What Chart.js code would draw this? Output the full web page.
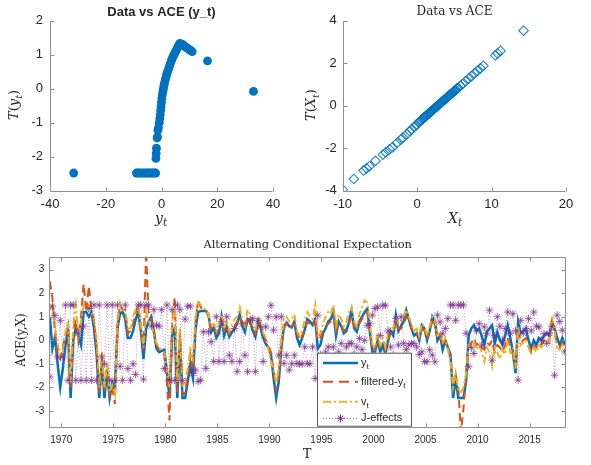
<!DOCTYPE html>
<html>
<head>
<meta charset="utf-8">
<script src="https://cdn.jsdelivr.net/npm/chart.js@4.4.0/dist/chart.umd.min.js"></script>
<style>
  body { margin: 0; background: #fff; }
  .pane { position: absolute; }
</style>
</head>
<body>
<div class="pane" style="left:0;top:0;width:295px;height:230px"><canvas id="tlChart"></canvas></div>
<div class="pane" style="left:295px;top:0;width:296px;height:230px"><canvas id="trChart"></canvas></div>
<div class="pane" style="left:0;top:230px;width:591px;height:235px"><canvas id="aceChart"></canvas></div>
<script>
// top-left: y_t against its ACE transform
const ytVals = [-31.5, -9, -8.3, -7.6, -6.8, -6, -5.3, -4.6, -3.9, -3.2, -2.6, -2.1,
    -2.0, -1.9, -1.8, -1.6, -1.45, -1.3, -1.1,
    -0.8, -0.6, -0.45, -0.3, -0.15, 0.0, 0.15, 0.3, 0.5, 0.7, 0.9, 1.1, 1.35, 1.6, 1.85, 2.1,
    2.4, 2.7, 3.0, 3.3, 3.6, 3.9, 4.2, 4.5, 4.8, 5.1, 5.4, 5.7, 6.0, 6.3, 6.6,
    7.0, 7.5, 8.0, 8.5, 9.0, 9.5, 10.0, 10.5, 11.0, 16.5, 33.0];
const TytVals = [-2.48, -2.48, -2.48, -2.48, -2.48, -2.48, -2.48, -2.48, -2.48, -2.48, -2.48, -2.48,
    -2.05, -1.9, -1.75, -1.45, -1.42, -1.22, -1.15,
    -1.0, -0.88, -0.76, -0.64, -0.52, -0.4, -0.28, -0.18, -0.08, 0.0, 0.1, 0.18, 0.26, 0.34, 0.42, 0.48,
    0.55, 0.62, 0.7, 0.77, 0.84, 0.9, 0.95, 1.0, 1.05, 1.1, 1.15, 1.2, 1.25, 1.29, 1.33,
    1.32, 1.3, 1.27, 1.24, 1.21, 1.18, 1.15, 1.12, 1.09, 0.82, -0.08];

// top-right: X_t against its ACE transform
const XtVals = [-10, -8.5, -7.2, -6.8, -6.4, -5.6, -4.6, -4.2, -3.7, -3.3,
    -2.7, -2.2, -1.9, -1.4, -1.0, -0.7, -0.4, -0.1, 0.2, 0.5,
    0.8, 1.0, 1.2, 1.4, 1.6, 1.8, 2.0, 2.2, 2.4, 2.6,
    2.8, 3.0, 3.2, 3.4, 3.6, 3.8, 4.0, 4.2, 4.4, 4.6,
    4.8, 5.0, 5.2, 5.5, 5.8, 6.1, 6.5, 6.9, 7.3, 7.7,
    8.1, 8.5, 8.9, 10.5, 10.8, 11.2, 14.3,
    0.35, 0.65, 0.9, 1.1, 1.3, 1.5, 1.7, 1.9, 2.1, 2.3, 2.5, 2.7, 2.9,
    3.1, 3.3, 3.5, 3.7, 3.9, 4.1, 4.3, 4.5, 4.7, 4.9, 5.1, 5.35];
const TXtVals = [-3.95, -3.45, -3.05, -2.95, -2.85, -2.6, -2.3, -2.2, -2.05, -1.95,
    -1.75, -1.6, -1.5, -1.35, -1.2, -1.1, -1.0, -0.92, -0.8, -0.7,
    -0.62, -0.55, -0.48, -0.42, -0.36, -0.3, -0.24, -0.17, -0.11, -0.05,
    0.02, 0.08, 0.14, 0.2, 0.26, 0.32, 0.38, 0.45, 0.5, 0.57,
    0.63, 0.69, 0.75, 0.84, 0.93, 1.02, 1.15, 1.27, 1.39, 1.52,
    1.64, 1.76, 1.88, 2.37, 2.46, 2.58, 3.53,
    -0.73, -0.64, -0.56, -0.5, -0.44, -0.38, -0.32, -0.26, -0.2, -0.13, -0.07, -0.01, 0.05,
    0.11, 0.17, 0.23, 0.3, 0.36, 0.42, 0.48, 0.54, 0.6, 0.66, 0.72, 0.8];

// bottom: quarterly series, first quarter at 1968.9
const quarterStart = 1968.9;
const quarterStep = 0.25;
const ytSeries = [
    1.0, -0.35, 0.15, -1.0, -2.0, -1.2, -0.2, 0.45, -2.45, 0.0,
    0.55, 0.2, -0.2, 1.2, 1.2, 1.0, 1.2, 0.5, -0.6, -2.45,
    -0.9, -2.45, -1.3, -2.45, -1.8, -2.1, 0.5, 1.15, 1.2, 0.9,
    0.1, 0.1, 0.4, 0.9, 1.2, 0.4, -0.8, 0.5, 0.8, 1.0,
    0.35, -0.35, -0.5, -0.45, -0.4, -1.3, -2.45, 0.2, 0.5, -2.45,
    0.0, -2.45, -2.45, -1.75, -1.05, -1.6, 0.5, 1.2, 1.25, 1.25,
    1.25, 1.1, 0.35, 0.55, 0.1, 0.3, 1.0, 0.2, 0.55, 0.15,
    0.35, 0.5, 0.7, 1.1, 0.6, 0.35, 0.9, 0.8, 0.4, 0.15,
    0.8, 0.55, 0.1, -0.15, -0.3, -0.6, -1.6, -2.45, -1.75, -0.3,
    0.6, 0.75, 0.6, 0.55, 0.8, 0.1, -0.2, 0.1, 0.45, 0.9,
    0.8, 0.65, 0.9, -0.35, -0.2, 0.3, 0.5, 0.8, 0.9, 1.2,
    0.2, 0.8, 0.6, 0.3, 0.4, 0.8, 1.28, 0.5, 0.36, 0.8,
    1.0, 1.2, 1.35, 0.36, -0.5, -0.5, 0.0, -0.5, -0.2, -0.6,
    0.0, 0.4, 0.2, 1.07, 0.4, 0.6, 0.8, 1.28, 0.9, 0.5,
    0.2, 0.3, 0.0, 0.64, 0.5, 0.0, 0.4, 1.0, 0.8, 0.0,
    0.2, -0.4, 0.0, -0.3, -0.6, -2.45, -1.6, -2.45, -2.45, -2.45,
    -1.75, 0.2, 0.5, 0.64, 0.4, 0.5, 0.2, -0.2, 0.36, 0.5,
    0.64, -0.15, 0.36, 0.0, -0.2, 0.2, 0.64, 0.1, -0.5, -1.4,
    0.78, 0.3, 0.4, 0.5, 0.0, -0.35, 0.0, -0.2, 0.1, 0.0,
    0.2, 0.3, 0.2, 0.78, 0.5, 0.1, -0.2, 0.1, -0.2];
const filteredSeries = [
    2.5, 1.8, 0.3, -0.6, -0.8, -0.3, 0.2, 0.6, -2.0, 0.4,
    0.9, 0.0, 1.0, 2.4, 1.2, 2.3, 1.3, 0.8, -0.3, -2.2,
    -0.6, -2.2, -1.0, -2.3, -2.0, -2.7, 0.6, 1.5, 1.3, 1.3,
    0.3, 0.4, 0.7, 1.2, 1.5, 0.5, -0.4, 3.8, 1.0, 0.9,
    0.4, -0.2, -0.4, -0.5, -0.6, -1.8, -3.4, 0.5, 1.85, -2.2,
    0.3, -2.3, -2.2, -1.5, -0.6, -1.2, 0.8, 1.7, 1.4, 1.3,
    1.3, 1.0, 0.5, 0.6, 0.3, 0.5, 0.9, 0.4, 0.6, 0.3,
    0.5, 0.6, 0.8, 1.0, 0.7, 0.5, 1.0, 0.7, 0.5, 0.3,
    0.7, 0.6, 0.3, 0.0, -0.2, -0.5, -1.3, -2.1, -1.5, -0.2,
    0.5, 0.7, 0.5, 0.6, 0.7, 0.3, 0.0, 0.2, 0.5, 0.8,
    0.7, 0.6, 0.8, 0.0, 0.1, 0.4, 0.6, 0.7, 0.8, 1.0,
    0.4, 0.7, 0.6, 0.4, 0.5, 0.7, 1.0, 0.6, 0.5, 0.7,
    0.9, 1.1, 1.2, 0.4, -0.3, -0.4, 0.0, -0.3, -0.2, -0.4,
    0.0, 0.3, 0.3, 0.8, 0.5, 0.5, 0.7, 1.0, 0.8, 0.5,
    0.3, 0.3, 0.1, 0.5, 0.4, 0.1, 0.4, 0.8, 0.7, 0.1,
    0.2, -0.2, 0.0, -0.3, -0.8, -1.8, -1.5, -2.0, -3.9, -2.9,
    -1.4, -0.3, -0.1, 0.1, -0.2, -0.1, -0.3, -0.4, -0.1, -0.2,
    0.0, -0.5, -0.2, -0.3, -0.5, -0.2, 0.1, -0.3, -0.6, -1.0,
    0.5, -0.1, 0.0, 0.1, -0.2, -0.5, -0.2, -0.3, -0.1, -0.2,
    0.0, 0.1, 0.0, 0.9, 0.3, -0.1, -0.3, -0.1, -0.3];
const vtSeries = [
    1.3, 1.5, 0.5, -0.2, -0.6, -0.4, 0.3, 0.8, -1.8, 0.6,
    1.5, 0.2, 0.8, 1.5, 1.3, 1.5, 1.2, 0.9, 0.0, -2.0,
    -0.5, -2.0, -1.0, -2.2, -1.9, -2.3, 0.8, 1.6, 1.3, 1.2,
    0.5, 0.5, 1.0, 1.3, 1.5, 0.6, -0.3, 1.2, 0.8, 0.7,
    0.2, -0.1, -0.3, -0.4, -0.5, -1.2, -2.0, 0.8, 1.4, -1.8,
    0.5, -1.9, -1.8, -1.2, -0.4, -0.8, 1.0, 1.6, 1.5, 1.4,
    1.3, 1.1, 0.6, 0.7, 0.4, 0.7, 1.1, 0.5, 0.9, 0.4,
    0.7, 0.9, 1.0, 1.4, 0.9, 0.6, 1.3, 1.1, 0.7, 0.4,
    1.0, 0.8, 0.3, 0.1, -0.4, -0.9, -1.3, -1.8, -1.2, 0.1,
    0.9, 1.0, 0.8, 0.9, 1.1, 0.4, 0.2, 0.4, 0.9, 1.2,
    1.0, 0.9, 1.5, 0.1, 0.3, 0.7, 1.0, 1.2, 1.1, 1.5,
    0.6, 1.1, 0.9, 0.6, 0.8, 1.2, 1.4, 0.8, 0.6, 1.1,
    1.4, 1.7, 1.6, 0.7, -0.2, -0.3, 0.3, -0.2, 0.1, -0.3,
    0.3, 0.6, 0.5, 1.0, 0.7, 0.8, 1.0, 1.3, 1.0, 0.7,
    0.4, 0.5, 0.2, 0.7, 0.6, 0.2, 0.6, 1.0, 0.9, 0.2,
    0.3, -0.1, 0.1, -0.4, -0.9, -2.0, -1.4, -2.1, -2.2, -2.0,
    -1.4, -0.2, -0.3, 0.0, -0.4, -0.2, -0.5, -0.9, -0.3, -0.5,
    -1.1, -0.3, -0.5, -0.8, -0.4, -0.6, 0.0, -0.5, -0.3, -1.2,
    0.6, -0.2, -0.1, 0.0, -0.3, -0.6, -0.3, -0.5, -0.2, -0.3,
    -0.1, 0.0, -0.1, 1.07, 0.4, -0.3, -0.4, -0.2, -0.5];
const jEffects = [
    -1.55, 1.45, 1.05, -0.7, 0.85, -0.7, 1.5, -1.7, 1.5, 1.5,
    -1.7, 0.3, -1.7, 0.6, -1.7, 1.35, -1.7, 1.5, -1.7, 1.5,
    -0.7, -1.0, 1.5, -1.7, 1.5, -1.7, 1.5, -1.1, -1.7, 1.5,
    -1.2, -1.7, -1.0, -1.45, 1.5, 1.5, -1.65, 1.5, 1.5, 0.6,
    1.3, 0.65, 0.6, 1.3, -1.2, 1.5, -1.7, 1.3, -1.7, 1.5,
    1.3, -1.7, 0.9, 1.45, 1.45, -1.4, -1.26, -1.75, -1.69, 0.36,
    -1.19, 0.36, -0.06, -0.9, 1.0, -0.9, 0.8, -0.9, 1.0, -0.63,
    -0.9, 0.5, -1.33, -0.9, 0.7, -0.63, -1.33, 0.85, 0.92, -1.33,
    0.85, 0.57, -0.9, 0.57, 1.0, 1.49, 0.43, 1.0, -0.63, 1.0,
    -0.98, -0.63, -1.26, -1.0, -0.63, -0.98, -1.0, -1.0, -0.28, -0.98,
    -1.0, -0.28, -1.62, 1.07, -0.6, -1.2, -0.5, -0.28, -0.8, -0.28,
    -1.0, -0.5, -0.13, -0.7, -0.28, -0.13, -0.13, -0.6, -0.28, 0.08,
    -0.4, 0.0, 0.64, 0.7, 1.07, 1.35, 1.42, 0.2, 1.49, 1.49,
    0.4, -0.28, -0.63, 0.92, -0.2, 1.0, -0.13, -0.4, -0.2, -0.13,
    -0.13, -0.28, -0.6, -0.49, -0.9, -0.91, -0.4, -0.63, -0.91, 1.07,
    0.78, 0.28, 0.5, 0.92, 1.5, 1.5, 0.85, 1.5, 1.5, 1.5,
    0.3, -1.12, -0.3, -0.56, 0.4, 0.71, -0.2, 0.57, 0.3, 1.28,
    -0.84, 0.2, 1.0, 0.6, 0.0, 0.5, 1.2, 0.3, 1.13, 0.4,
    -1.69, 0.85, 0.3, 0.5, 0.92, 0.4, 1.2, 0.6, 0.57, 0.0,
    0.28, -0.13, 0.3, 0.6, -1.48, 1.07, 0.8, 0.43, -0.49];

const tlXTicks = [-40, -20, 0, 20, 40];
const tlYTicks = [-3, -2, -1, 0, 1, 2];
const trXTicks = [-10, 0, 10, 20];
const trYTicks = [-4, -2, 0, 2, 4];
const aceXTicks = [1970, 1975, 1980, 1985, 1990, 1995, 2000, 2005, 2010, 2015];
const aceYTicks = [-3, -2, -1, 0, 1, 2, 3];

const BLUE = '#0072BD', ORANGE = '#D95319', YELLOW = '#EDB120', PURPLE = '#7E2F8E';
const INK = '#262626';
const SANS = '"Liberation Sans", Arial, sans-serif';
const SERIF = '"DejaVu Serif", serif';

const years = ytSeries.map((_, i) => +(quarterStart + quarterStep * i).toFixed(2));
const pairs = (xs, ys) => xs.map((x, i) => ({x: x, y: ys[i]}));

// text made of pieces: [text, style] with style '' upright, 'i' italic, 's' subscript
function richText(ctx, parts, x, y, size, family, rot, italicSub) {
    ctx.save();
    ctx.translate(x, y);
    if (rot) ctx.rotate(rot);
    const fontOf = p => ((p[1] === 'i' || (p[1] === 's' && italicSub)) ? 'italic ' : '') +
        (p[1] === 's' ? size * 0.72 : size) + 'px ' + family;
    let w = 0;
    parts.forEach(p => { ctx.font = fontOf(p); w += ctx.measureText(p[0]).width; });
    let cx = -w / 2;
    ctx.textAlign = 'left';
    ctx.textBaseline = 'middle';
    ctx.fillStyle = INK;
    parts.forEach(p => {
        ctx.font = fontOf(p);
        ctx.fillText(p[0], cx, p[1] === 's' ? size * 0.32 : 0);
        cx += ctx.measureText(p[0]).width;
    });
    ctx.restore();
}

function plainText(ctx, text, x, y, font) {
    ctx.save();
    ctx.font = font;
    ctx.fillStyle = INK;
    ctx.textAlign = 'center';
    ctx.textBaseline = 'middle';
    ctx.fillText(text, x, y);
    ctx.restore();
}

// matlab style axes: inward tick marks, optional full box
function drawAxes(chart, box) {
    const {ctx, chartArea: a} = chart;
    const sx = chart.scales.x, sy = chart.scales.y;
    ctx.save();
    ctx.strokeStyle = '#8f8f8f';
    ctx.lineWidth = 1;
    ctx.beginPath();
    const L = Math.round(a.left) + 0.5, B = Math.round(a.bottom) + 0.5;
    const R = Math.round(a.right) - 0.5, T = Math.round(a.top) + 0.5;
    ctx.moveTo(L, T); ctx.lineTo(L, B); ctx.lineTo(R, B);
    if (box) { ctx.lineTo(R, T); ctx.lineTo(L, T); }
    sx.ticks.forEach(t => {
        const p = Math.round(sx.getPixelForValue(t.value)) + 0.5;
        ctx.moveTo(p, B); ctx.lineTo(p, B - 4);
        if (box) { ctx.moveTo(p, T); ctx.lineTo(p, T + 4); }
    });
    sy.ticks.forEach(t => {
        const p = Math.round(sy.getPixelForValue(t.value)) + 0.5;
        ctx.moveTo(L, p); ctx.lineTo(L + 4, p);
        if (box) { ctx.moveTo(R, p); ctx.lineTo(R - 4, p); }
    });
    ctx.stroke();
    ctx.restore();
}

function axisOpts(min, max, ticks, size, pad, fitProp, fitVal) {
    return {
        type: 'linear', min: min, max: max,
        afterBuildTicks: s => { s.ticks = ticks.map(v => ({value: v})); },
        afterFit: s => { s[fitProp] = fitVal; },
        ticks: {
            font: {family: SANS, size: size}, color: INK, padding: pad,
            callback: v => String(v), maxRotation: 0, autoSkip: false,
        },
        grid: {display: false, drawTicks: false},
        border: {display: false},
    };
}

const baseOpts = (padTop, padRight) => ({
    responsive: true,
    maintainAspectRatio: false,
    animation: false,
    layout: {padding: {top: padTop, right: padRight, left: 0, bottom: 0}},
    plugins: {legend: {display: false}, tooltip: {enabled: false}},
});

// ---------- top left ----------
const tlOptions = baseOpts(20.7, 22);
tlOptions.scales = {
    x: axisOpts(-40, 40, tlXTicks, 13, 6, 'height', 230 - 190.7),
    y: axisOpts(-3, 2, tlYTicks, 13, 7, 'width', 50),
};
new Chart(document.getElementById('tlChart'), {
    type: 'scatter',
    data: {datasets: [{
        data: pairs(ytVals, TytVals),
        pointRadius: 4.4,
        pointBackgroundColor: BLUE,
        pointBorderColor: BLUE,
        pointBorderWidth: 0,
    }]},
    options: tlOptions,
    plugins: [{id: 'decoTL', afterDraw(chart) {
        const ctx = chart.ctx;
        drawAxes(chart, false);
        plainText(ctx, 'Data vs ACE (y_t)', 161.5, 12, 'bold 13px ' + SANS);
        richText(ctx, [['T', 'i'], ['(', ''], ['y', 'i'], ['t', 's'], [')', '']], 15, 105, 13, SERIF, -Math.PI / 2, true);
        richText(ctx, [['y', 'i'], ['t', 's']], 161, 219, 14, SERIF, 0, true);
    }}],
});

// ---------- top right ----------
const trOptions = baseOpts(20.7, 25);
trOptions.scales = {
    x: axisOpts(-10, 20, trXTicks, 13, 6, 'height', 230 - 190.7),
    y: axisOpts(-4, 4, trYTicks, 13, 6, 'width', 47.7),
};
new Chart(document.getElementById('trChart'), {
    type: 'scatter',
    data: {datasets: [{
        data: pairs(XtVals, TXtVals),
        pointStyle: 'rectRot',
        pointRadius: 4.8,
        pointBackgroundColor: 'rgba(0,0,0,0)',
        pointBorderColor: 'rgba(0,114,189,0.85)',
        pointBorderWidth: 1.1,
    }]},
    options: trOptions,
    plugins: [{id: 'decoTR', afterDraw(chart) {
        const ctx = chart.ctx;
        drawAxes(chart, false);
        plainText(ctx, 'Data vs ACE', 159.5, 11.5, '12px ' + SERIF);
        richText(ctx, [['T', 'i'], ['(', ''], ['X', 'i'], ['t', 's'], [')', '']], 17, 105, 13, SERIF, -Math.PI / 2, true);
        richText(ctx, [['X', 'i'], ['t', 's']], 160, 219, 14, SERIF, 0, true);
    }}],
});

// ---------- bottom: ACE over time ----------
function drawLegend(chart) {
    const ctx = chart.ctx;
    const x0 = 317, y0 = 122.7, w = 95, h = 74;
    ctx.save();
    ctx.fillStyle = '#fff';
    ctx.fillRect(x0, y0, w, h);
    ctx.strokeStyle = '#555';
    ctx.lineWidth = 1;
    ctx.strokeRect(x0 + 0.5, y0 + 0.5, w - 1, h - 1);
    const rows = [
        {y: 133, color: BLUE, width: 2.5, dash: [], parts: [['y', ''], ['t', 's']]},
        {y: 151.7, color: ORANGE, width: 2, dash: [10, 6], parts: [['filtered-y', ''], ['t', 's']]},
        {y: 171.7, color: YELLOW, width: 2, dash: [8, 3, 2, 3], parts: [['v', ''], ['t', 's']]},
        {y: 188.3, color: PURPLE, width: 0.8, dash: [1, 2], parts: [['J-effects', '']]},
    ];
    rows.forEach(r => {
        ctx.beginPath();
        ctx.setLineDash(r.dash);
        ctx.strokeStyle = r.color;
        ctx.lineWidth = r.width;
        ctx.moveTo(323, r.y);
        ctx.lineTo(358, r.y);
        ctx.stroke();
        ctx.setLineDash([]);
        let cx = 361;
        r.parts.forEach(p => {
            const size = p[1] === 's' ? 8 : 11;
            ctx.font = size + 'px ' + SANS;
            ctx.fillStyle = INK;
            ctx.textBaseline = 'middle';
            ctx.textAlign = 'left';
            ctx.fillText(p[0], cx, p[1] === 's' ? r.y + 4 : r.y);
            cx += ctx.measureText(p[0]).width;
        });
    });
    // star marker for J-effects
    ctx.strokeStyle = PURPLE;
    ctx.lineWidth = 1;
    ctx.beginPath();
    for (let k = 0; k < 4; k++) {
        const ang = k * Math.PI / 4, r = 4;
        ctx.moveTo(340.5 - r * Math.cos(ang), 188.3 - r * Math.sin(ang));
        ctx.lineTo(340.5 + r * Math.cos(ang), 188.3 + r * Math.sin(ang));
    }
    ctx.stroke();
    ctx.restore();
}

const aceOptions = baseOpts(26.7, 25);
aceOptions.scales = {
    x: axisOpts(1968.85, 2018.5, aceXTicks, 10, 7, 'height', 235 - 197),
    y: axisOpts(-3.68, 3.55, aceYTicks, 10, 5, 'width', 49.3),
};
aceOptions.elements = {line: {tension: 0}};
new Chart(document.getElementById('aceChart'), {
    type: 'line',
    data: {datasets: [
        {label: 'y_t', data: pairs(years, ytSeries), borderColor: BLUE, borderWidth: 2.5,
            pointRadius: 0, order: 4},
        {label: 'filtered-y_t', data: pairs(years, filteredSeries), borderColor: ORANGE, borderWidth: 2,
            borderDash: [8, 5], pointRadius: 0, order: 3},
        {label: 'v_t', data: pairs(years, vtSeries), borderColor: YELLOW, borderWidth: 2,
            borderDash: [7, 3, 2, 3], pointRadius: 0, order: 2},
        {label: 'J-effects', data: pairs(years, jEffects), borderColor: 'rgba(126,47,142,0.6)', borderWidth: 0.8,
            borderDash: [1, 2], pointStyle: 'star', pointRadius: 3.8,
            pointBorderColor: 'rgba(126,47,142,0.75)', pointBackgroundColor: PURPLE, pointBorderWidth: 1, order: 1},
    ]},
    options: aceOptions,
    plugins: [{id: 'decoACE', afterDraw(chart) {
        const ctx = chart.ctx;
        drawAxes(chart, true);
        plainText(ctx, 'Alternating Conditional Expectation', 307.7, 15.5, '11.4px ' + SERIF);
        plainText(ctx, 'T', 307, 225, '13px ' + SERIF);
        ctx.save();
        ctx.translate(21.7, 110);
        ctx.rotate(-Math.PI / 2);
        plainText(ctx, 'ACE(y,X)', 0, 0, '12px ' + SERIF);
        ctx.restore();
        drawLegend(chart);
    }}],
});
</script>
</body>
</html>
